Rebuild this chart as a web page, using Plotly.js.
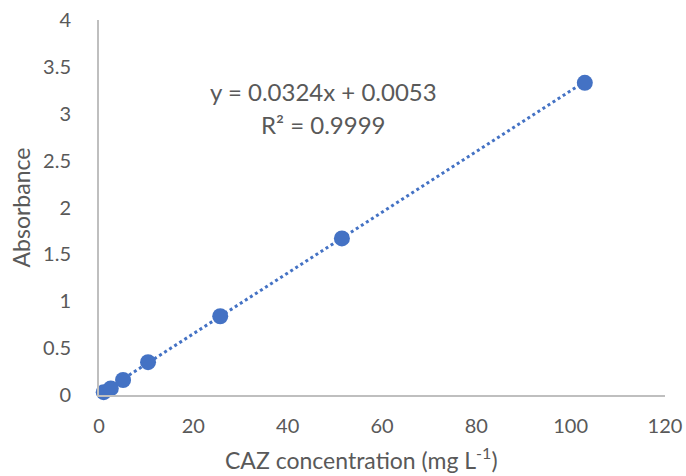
<!DOCTYPE html>
<html>
<head>
<meta charset="utf-8">
<script src="https://cdn.plot.ly/plotly-3.0.1.min.js"></script>
<style>html,body{margin:0;padding:0;background:#fff;}#chart{width:686px;height:476px;}</style>
</head>
<body>
<div id="chart"></div>
<script>
// Data
const concentration = [1.0, 2.5, 5.1, 10.4, 25.7, 51.5, 103.0];
const absorbance = [0.03, 0.07, 0.16, 0.35, 0.84, 1.67, 3.33];
const slope = 0.0324;
const intercept = 0.0053;
const equationText = "y = 0.0324x + 0.0053";
const r2Text = "R² = 0.9999";
const xTitle = 'CAZ concentration (mg L<sup>-1</sup>)';
const yTitle = 'Absorbance';
const xTicks = [0, 20, 40, 60, 80, 100, 120];
const yTicks = [0, 0.5, 1, 1.5, 2, 2.5, 3, 3.5, 4];

const xMin = Math.min(...concentration), xMax = Math.max(...concentration);
const trendX = [xMin, xMax];
const trendY = trendX.map(x => slope * x + intercept);

const grey = '#595959';
const fontFam = 'Lato, "Open Sans", sans-serif';

const data = [
  {x: trendX, y: trendY, mode: 'lines', type: 'scatter',
   line: {color: '#4472C4', width: 3, dash: 'dot'}, hoverinfo: 'skip', showlegend: false},
  {x: concentration, y: absorbance, mode: 'markers', type: 'scatter', cliponaxis: false,
   marker: {color: '#4472C4', size: 16}, showlegend: false}
];

const L = 99, R = 665, T = 20, B = 395;
const px = v => (v - L) / (R - L);
const py = v => (B - v) / (B - T);

const layout = {
  width: 686, height: 476,
  margin: {l: L, r: 686 - R, t: T, b: 476 - B},
  paper_bgcolor: '#fff', plot_bgcolor: '#fff',
  font: {family: fontFam, color: grey, size: 20},
  xaxis: {
    range: [0, 120], tickvals: xTicks, ticktext: xTicks.map(String),
    showgrid: false, zeroline: false, showline: true, linecolor: '#bfbfbf', linewidth: 2,
    ticks: '', ticklabelstandoff: 12,
    tickfont: {size: 20, color: grey, family: fontFam}
  },
  yaxis: {
    range: [0, 4], tickvals: yTicks, ticktext: yTicks.map(String),
    showgrid: false, zeroline: false, showline: true, linecolor: '#bfbfbf', linewidth: 2,
    ticks: '', ticklabelstandoff: 22,
    tickfont: {size: 20, color: grey, family: fontFam},
    title: {text: yTitle, font: {size: 23, color: grey, family: fontFam}, standoff: 6}
  },
  annotations: [
    {xref: 'paper', yref: 'paper', x: px(323), y: py(91), text: equationText,
     showarrow: false, xanchor: 'center', yanchor: 'middle', font: {size: 24, color: grey, family: fontFam}},
    {xref: 'paper', yref: 'paper', x: px(323), y: py(124), text: r2Text,
     showarrow: false, xanchor: 'center', yanchor: 'middle', font: {size: 24, color: grey, family: fontFam}},
    {xref: 'paper', yref: 'paper', x: px(361), y: py(458), text: xTitle,
     showarrow: false, xanchor: 'center', yanchor: 'middle', font: {size: 23, color: grey, family: fontFam}}
  ]
};

Plotly.newPlot('chart', data, layout, {displayModeBar: false, staticPlot: true});
</script>
</body>
</html>
